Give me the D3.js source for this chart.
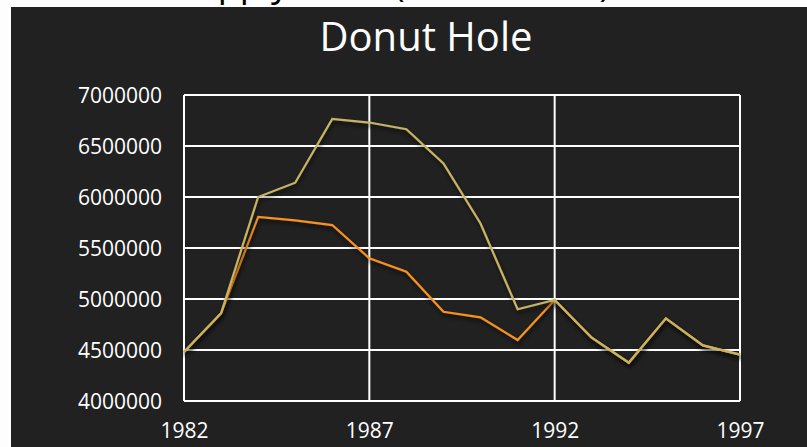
<!DOCTYPE html>
<html>
<head>
<meta charset="utf-8">
<script src="https://cdn.jsdelivr.net/npm/d3@7"></script>
<style>
	body { margin: 0; background: #fdfdfd; }
	svg { display: block; }
	text { font-family: 'Open Sans', sans-serif; }
</style>
</head>
<body>
<script>
// years and the two series
const years = d3.range(1982, 1998);
const upperSeries = [4480000, 4860000, 6000000, 6140000, 6765000, 6730000, 6665000, 6330000,
	5740000, 4900000, 4990000, 4620000, 4375000, 4810000, 4545000, 4455000];
const lowerSeries = [4480000, 4860000, 5805000, 5770000, 5725000, 5400000, 5268000, 4875000,
	4820000, 4598000, 4990000, 4620000, 4375000, 4810000, 4545000, 4455000];
const yTicks = [4000000, 4500000, 5000000, 5500000, 6000000, 6500000, 7000000];
const xTicks = [1982, 1987, 1992, 1997];

const width = 807;
const height = 447;

const svg = d3.select('body')
	.append('svg')
	.attr('width', width)
	.attr('height', height);

const defs = svg.append('defs');
const shadow = defs.append('filter')
	.attr('id', 'shadow')
	.attr('x', '-10%').attr('y', '-10%')
	.attr('width', '120%').attr('height', '130%');
shadow.append('feDropShadow')
	.attr('dx', 1).attr('dy', 3)
	.attr('stdDeviation', 2)
	.attr('flood-color', '#000')
	.attr('flood-opacity', 0.7);

//clipped heading of the page above the panel (only its descenders show, as in the source)
svg.append('text')
	.attr('x', 176)
	.attr('y', -4)
	.style('font-size', '36px')
	.style('fill', '#000')
	.text('Supply Level (1982 - 1997)');

//dark panel
svg.append('rect')
	.attr('x', 11)
	.attr('y', 7)
	.attr('width', width - 11)
	.attr('height', height - 7)
	.style('fill', '#212121');

svg.append('text')
	.attr('x', 426)
	.attr('y', 51)
	.attr('text-anchor', 'middle')
	.style('font-size', '40px')
	.style('fill', '#fff')
	.text('Donut Hole');

const margin = {left: 184, right: 67, top: 95, bottom: 46};

const x = d3.scaleLinear()
	.domain([1982, 1997])
	.range([margin.left, width - margin.right]);

const y = d3.scaleLinear()
	.domain([4000000, 7000000])
	.range([height - margin.bottom, margin.top]);

//grid
const grid = svg.append('g');

grid.selectAll('.hline')
	.data(yTicks)
	.enter()
	.append('line')
	.attr('x1', x(1982))
	.attr('x2', x(1997))
	.attr('y1', d => y(d))
	.attr('y2', d => y(d))
	.style('stroke', '#fff')
	.style('stroke-width', '2px');

grid.selectAll('.vline')
	.data(xTicks)
	.enter()
	.append('line')
	.attr('x1', d => x(d))
	.attr('x2', d => x(d))
	.attr('y1', y(4000000))
	.attr('y2', y(7000000))
	.style('stroke', '#fff')
	.style('stroke-width', '2px');

//axes labels
const yAxis = svg.append('g')
	.attr('transform', 'translate(' + (margin.left - 22) + ',0)')
	.call(d3.axisLeft(y).tickValues(yTicks).tickSize(0).tickPadding(0).tickFormat(d3.format('d')));

const xAxis = svg.append('g')
	.attr('transform', 'translate(0,' + (y(4000000) + 22) + ')')
	.call(d3.axisBottom(x).tickValues(xTicks).tickSize(0).tickPadding(0).tickFormat(d3.format('d')));

svg.selectAll('.domain').remove();
yAxis.selectAll('text')
	.attr('dy', '0.36em')
	.style('font-family', "'Open Sans', sans-serif")
	.style('font-size', '21px')
	.style('fill', '#fff');
xAxis.selectAll('text')
	.attr('dy', '0.72em')
	.style('font-family', "'Open Sans', sans-serif")
	.style('font-size', '21px')
	.style('fill', '#fff');

//series lines
const line = d3.line()
	.x((d, i) => x(years[i]))
	.y(d => y(d));

svg.append('path')
	.datum(lowerSeries)
	.attr('d', line)
	.attr('filter', 'url(#shadow)')
	.style('fill', 'none')
	.style('stroke', '#f7931e')
	.style('stroke-width', '2.2px');

svg.append('path')
	.datum(upperSeries)
	.attr('d', line)
	.attr('filter', 'url(#shadow)')
	.style('fill', 'none')
	.style('stroke', '#c6b464')
	.style('stroke-width', '2.2px');
</script>
</body>
</html>
